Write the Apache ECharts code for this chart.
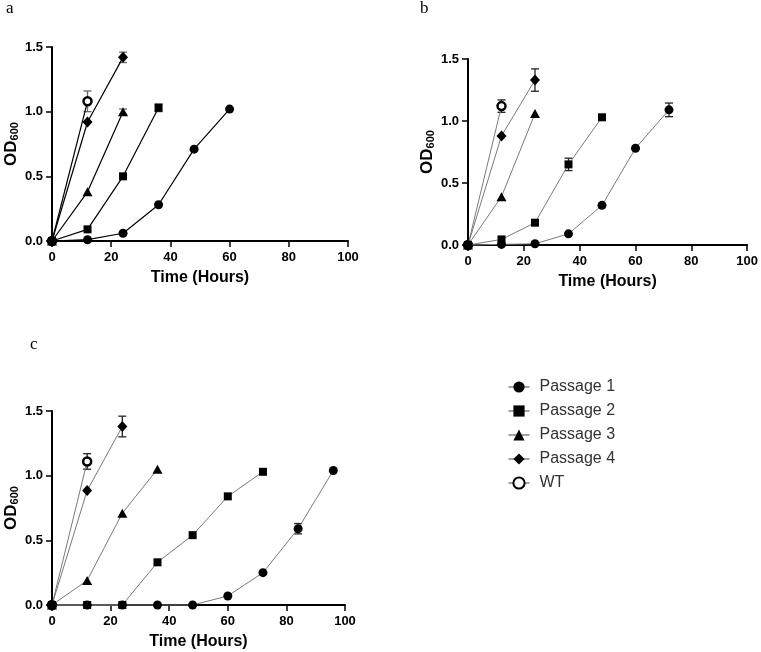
<!DOCTYPE html>
<html>
<head>
<meta charset="utf-8">
<script src="https://cdn.jsdelivr.net/npm/echarts@6/dist/echarts.min.js"></script>
<style>html,body{margin:0;padding:0;background:#fff}#c{width:761px;height:652px}</style>
</head>
<body>
<div id="c"></div>
<script>
// Sampling times (hours); each series uses a prefix of this list
const hours = [0, 12, 24, 36, 48, 60, 72, 84, 96];
const seriesNames = ['Passage 1', 'Passage 2', 'Passage 3', 'Passage 4', 'WT'];
const xTicks = [0, 20, 40, 60, 80, 100];
const yTicks = [0.0, 0.5, 1.0, 1.5];

// Panel a
const a_p1 = [0, 0.01, 0.06, 0.28, 0.71, 1.02];
const a_p2 = [0, 0.09, 0.5, 1.03];
const a_p3 = [0, 0.38, 1.0];
const a_p4 = [0, 0.92, 1.42];
const a_wt = [0, 1.08];
const a_p1_err = [0, 0, 0, 0, 0.01, 0];
const a_p2_err = [0, 0, 0, 0.03];
const a_p3_err = [0, 0, 0.02];
const a_p4_err = [0, 0, 0.04];
const a_wt_err = [0, 0.08];

// Panel b
const b_p1 = [0, 0.005, 0.01, 0.09, 0.32, 0.78, 1.09];
const b_p2 = [0, 0.045, 0.18, 0.65, 1.03];
const b_p3 = [0, 0.39, 1.06];
const b_p4 = [0, 0.88, 1.33];
const b_wt = [0, 1.12];
const b_p1_err = [0, 0, 0, 0, 0, 0, 0.055];
const b_p2_err = [0, 0, 0, 0.05, 0];
const b_p3_err = [0, 0, 0];
const b_p4_err = [0, 0, 0.09];
const b_wt_err = [0, 0.05];

// Panel c
const c_p1 = [0, 0, 0, 0, 0, 0.07, 0.25, 0.59, 1.04];
const c_p2 = [0, 0, 0, 0.33, 0.54, 0.84, 1.03];
const c_p3 = [0, 0.19, 0.71, 1.05];
const c_p4 = [0, 0.885, 1.38];
const c_wt = [0, 1.11];
const c_p1_err = [0, 0, 0, 0, 0, 0, 0, 0.04, 0];
const c_p2_err = [0, 0, 0, 0, 0, 0, 0];
const c_p3_err = [0, 0, 0, 0];
const c_p4_err = [0, 0, 0.08];
const c_wt_err = [0, 0.06];

const FONT = "'Liberation Sans', Arial, sans-serif";

const panels = [
  { label: 'a', vals: [a_p1, a_p2, a_p3, a_p4, a_wt], errs: [a_p1_err, a_p2_err, a_p3_err, a_p4_err, a_wt_err],
    grid: { left: 52, top: 47, width: 296, height: 194 }, line: '#000', lineW: 1.2, errColor: '#666' },
  { label: 'b', vals: [b_p1, b_p2, b_p3, b_p4, b_wt], errs: [b_p1_err, b_p2_err, b_p3_err, b_p4_err, b_wt_err],
    grid: { left: 468, top: 59, width: 282, height: 186 }, line: '#7a7a7a', lineW: 1, errColor: '#222' },
  { label: 'c', vals: [c_p1, c_p2, c_p3, c_p4, c_wt], errs: [c_p1_err, c_p2_err, c_p3_err, c_p4_err, c_wt_err],
    grid: { left: 52, top: 411, width: 293, height: 194 }, line: '#7a7a7a', lineW: 1, errColor: '#222' }
];

const symbols = [
  { symbol: 'circle', size: 9, fill: '#000', border: 0 },
  { symbol: 'rect', size: 8, fill: '#000', border: 0 },
  { symbol: 'triangle', size: [10, 9], fill: '#000', border: 0 },
  { symbol: 'diamond', size: [10, 11], fill: '#000', border: 0 },
  { symbol: 'circle', size: 8, fill: '#fff', border: 2.5 }
];

const grids = [], xAxes = [], yAxes = [], series = [];
panels.forEach((p, pi) => {
  grids.push(Object.assign({ containLabel: false }, p.grid));
  xAxes.push({
    type: 'value', gridIndex: pi, min: xTicks[0], max: xTicks[xTicks.length - 1], interval: xTicks[1] - xTicks[0],
    name: 'Time (Hours)', nameLocation: 'middle', nameGap: 29,
    nameTextStyle: { fontFamily: FONT, fontWeight: 'bold', fontSize: 16, color: '#000' },
    axisLine: { show: true, lineStyle: { color: '#000', width: 2 } },
    axisTick: { show: true, length: 6, lineStyle: { color: '#000', width: 1.5 } },
    axisLabel: { fontFamily: FONT, fontWeight: 'bold', fontSize: 13, color: '#000', margin: 10 },
    splitLine: { show: false }
  });
  yAxes.push({
    type: 'value', gridIndex: pi, min: yTicks[0], max: yTicks[yTicks.length - 1], interval: yTicks[1] - yTicks[0],
    name: '{m|OD}{s|600}', nameLocation: 'middle', nameGap: 32,
    nameTextStyle: {
      rich: {
        m: { fontFamily: FONT, fontWeight: 'bold', fontSize: 17, color: '#000', lineHeight: 18 },
        s: { fontFamily: FONT, fontWeight: 'bold', fontSize: 11, color: '#000', verticalAlign: 'bottom', lineHeight: 18, padding: [7, 0, 0, 0] }
      }
    },
    axisLine: { show: true, onZero: false, lineStyle: { color: '#000', width: 2 } },
    axisTick: { show: true, length: 6, lineStyle: { color: '#000', width: 1.5 } },
    axisLabel: { fontFamily: FONT, fontWeight: 'bold', fontSize: 13, color: '#000', margin: 9,
      formatter: v => v.toFixed(1) },
    splitLine: { show: false }
  });
  p.vals.forEach((vals, si) => {
    const sym = symbols[si];
    series.push({
      type: 'line', name: seriesNames[si], xAxisIndex: pi, yAxisIndex: pi,
      data: vals.map((v, k) => [hours[k], v]),
      symbol: sym.symbol, symbolSize: sym.size, showAllSymbol: true, clip: false,
      lineStyle: { color: p.line, width: p.lineW },
      itemStyle: { color: sym.fill, borderColor: '#000', borderWidth: sym.border, opacity: 1 },
      emphasis: { disabled: true }, animation: false, z: si === 4 ? 2.5 : 3
    });
    const errData = [];
    p.errs[si].forEach((e, k) => { if (e > 0) errData.push([hours[k], vals[k], e]); });
    if (errData.length) {
      series.push({
        type: 'custom', name: seriesNames[si] + ' err', xAxisIndex: pi, yAxisIndex: pi,
        data: errData, encode: { x: 0, y: 1 }, animation: false, z: 2, silent: true,
        renderItem: (params, api) => {
          const x = api.value(0), y = api.value(1), e = api.value(2);
          const top = api.coord([x, y + e]);
          const bot = api.coord([x, y - e]);
          const w = 4;
          const st = { stroke: p.errColor, lineWidth: 1.3 };
          return {
            type: 'group', children: [
              { type: 'line', shape: { x1: top[0], y1: top[1], x2: bot[0], y2: bot[1] }, style: st },
              { type: 'line', shape: { x1: top[0] - w, y1: top[1], x2: top[0] + w, y2: top[1] }, style: st },
              { type: 'line', shape: { x1: bot[0] - w, y1: bot[1], x2: bot[0] + w, y2: bot[1] }, style: st }
            ]
          };
        }
      });
    }
  });
});

const chart = echarts.init(document.getElementById('c'), null, { renderer: 'canvas' });
chart.setOption({
  backgroundColor: '#fff',
  animation: false,
  grid: grids,
  xAxis: xAxes,
  yAxis: yAxes,
  series: series,
  legend: {
    data: seriesNames,
    orient: 'vertical', left: 503, top: 374,
    itemWidth: 21, itemHeight: 14, itemGap: 8,
    lineStyle: { color: '#444', width: 1 },
    textStyle: { fontFamily: FONT, fontSize: 16, color: '#333', padding: [0, 0, 0, 5] },
    selectedMode: false
  },
  graphic: [
    { type: 'text', left: 6, top: 0, style: { text: 'a', font: "17px 'Liberation Serif', 'Times New Roman', serif", fill: '#000' } },
    { type: 'text', left: 420, top: 0, style: { text: 'b', font: "17px 'Liberation Serif', 'Times New Roman', serif", fill: '#000' } },
    { type: 'text', left: 30, top: 336, style: { text: 'c', font: "17px 'Liberation Serif', 'Times New Roman', serif", fill: '#000' } }
  ]
});
</script>
</body>
</html>
